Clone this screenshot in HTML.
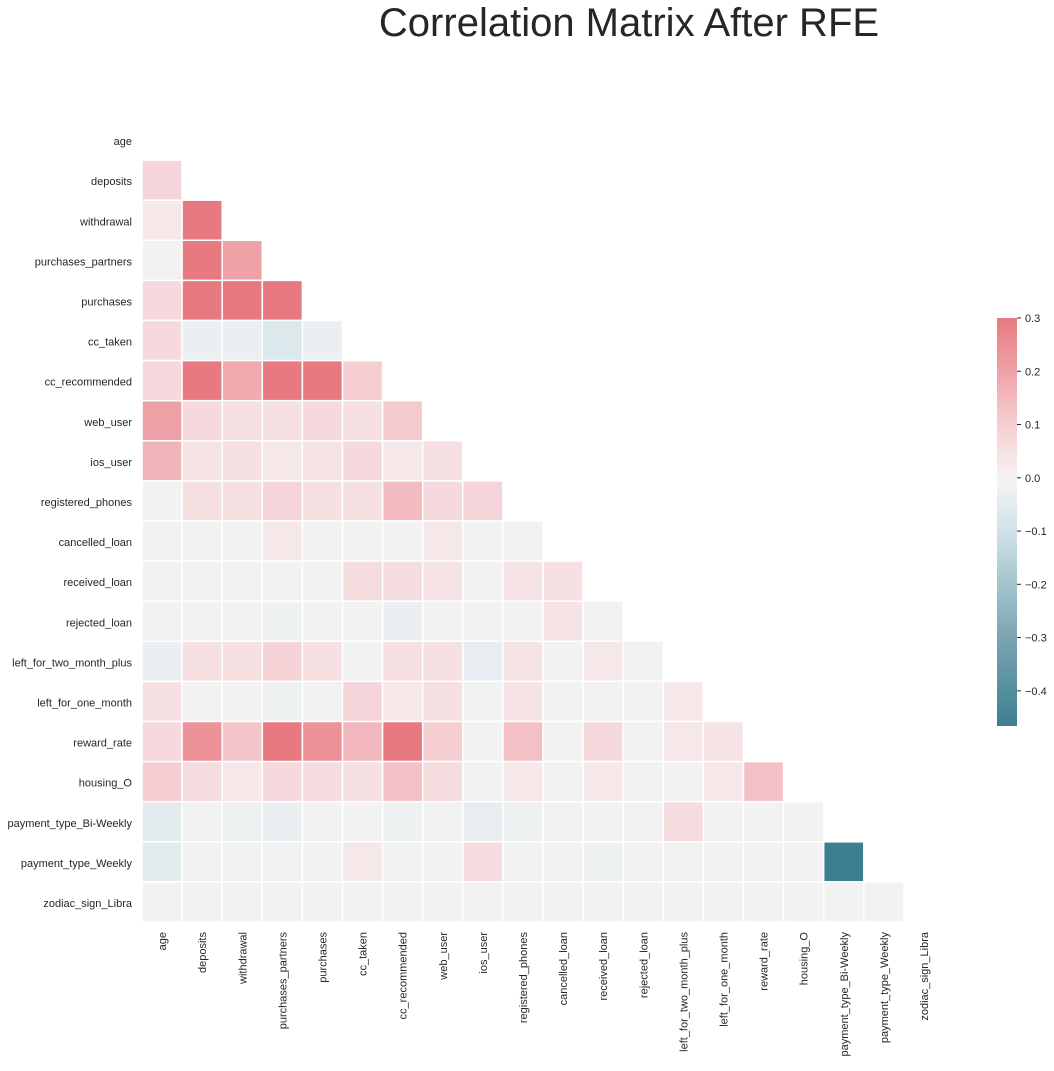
<!DOCTYPE html>
<html><head><meta charset="utf-8"><style>
body{margin:0;background:#fff;}
svg text{font-family:"Liberation Sans",sans-serif;fill:#262626;}
</style></head><body>
<svg id="chart" width="1054" height="1066" xmlns="http://www.w3.org/2000/svg">
<text x="629" y="36" font-size="40" text-anchor="middle">Correlation Matrix After RFE</text>
<g id="cells"></g>
<g id="ylabels"></g>
<g id="xlabels"></g>
<defs><linearGradient id="cbg" x1="0" y1="1" x2="0" y2="0"></linearGradient></defs>
<rect x="997" y="318" width="20" height="408" fill="url(#cbg)"/>
<g id="cbticks"></g>
</svg>
<script>
const labels=["age","deposits","withdrawal","purchases_partners","purchases","cc_taken","cc_recommended","web_user","ios_user","registered_phones","cancelled_loan","received_loan","rejected_loan","left_for_two_month_plus","left_for_one_month","reward_rate","housing_O","payment_type_Bi-Weekly","payment_type_Weekly","zodiac_sign_Libra"];
const corr=[
[],
[.08],
[.03,.35],
[0,.35,.2],
[.07,.35,.35,.35],
[.07,-.03,-.03,-.07,-.03],
[.07,.35,.18,.35,.35,.1],
[.2,.07,.05,.05,.07,.05,.11],
[.16,.04,.05,.03,.04,.07,.03,.05],
[0,.05,.05,.08,.05,.05,.14,.07,.08],
[0,0,0,.03,0,0,0,.03,0,0],
[0,0,0,0,0,.06,.06,.04,0,.04,.05],
[0,0,0,-.02,0,0,-.03,0,0,0,.04,0],
[-.03,.05,.05,.09,.05,0,.05,.05,-.04,.04,0,.03,0],
[.05,0,0,-.02,0,.08,.03,.05,0,.04,0,0,0,.03],
[.07,.24,.12,.35,.24,.15,.35,.1,0,.13,0,.07,0,.03,.04],
[.1,.06,.03,.07,.06,.05,.13,.06,0,.03,0,.03,0,0,.03,.13],
[-.05,0,-.02,-.03,0,0,-.02,0,-.04,-.02,0,0,0,.06,0,0,0],
[-.05,0,0,0,0,.03,0,0,.06,0,0,-.02,0,0,0,0,0,-.466],
[0,0,0,0,0,0,0,0,0,0,0,0,0,0,0,0,0,0,0]
];
const cbTicks=[0.3,0.2,0.1,0.0,-0.1,-0.2,-0.3,-0.4];
const vmin=-0.466,vmax=0.3;
const x0=142,y0=120,cs=40.1;
const NS="http://www.w3.org/2000/svg";
const ramp=[
[-0.466,[61,127,145]],[-0.3,[122,165,178]],[-0.2,[165,196,205]],[-0.1,[208,226,232]],[-0.015,[240,242,243]],
[0,[242,242,242]],[0.015,[246,236,238]],[0.1,[245,206,210]],[0.2,[238,162,168]],[0.3,[232,121,128]]];
function color(v){
  if(v<=ramp[0][0]) return "rgb("+ramp[0][1].join(",")+")";
  if(v>=ramp[ramp.length-1][0]) return "rgb("+ramp[ramp.length-1][1].join(",")+")";
  if(Math.abs(v)<0.012) return "rgb(242,242,242)";
  for(let k=0;k<ramp.length-1;k++){
    const [a,ca]=ramp[k],[b,cb]=ramp[k+1];
    if(v>=a&&v<=b){const t=(v-a)/(b-a);return "rgb("+ca.map((c,i)=>Math.round(c+(cb[i]-c)*t)).join(",")+")";}
  }
}
const cyScale=v=>318+(vmax-v)/(vmax-vmin)*408;
const cells=document.getElementById('cells');
corr.forEach((row,i)=>row.forEach((v,j)=>{
  const r=document.createElementNS(NS,'rect');
  r.setAttribute('x',x0+j*cs);r.setAttribute('y',y0+i*cs);
  r.setAttribute('width',cs);r.setAttribute('height',cs);
  r.setAttribute('fill',color(v));r.setAttribute('stroke','#fff');r.setAttribute('stroke-width','1.5');
  
  
  cells.appendChild(r);
}));
const yl=document.getElementById('ylabels'),xl=document.getElementById('xlabels');
labels.forEach((l,i)=>{
  const t=document.createElementNS(NS,'text');
  t.setAttribute('x',132);t.setAttribute('y',y0+i*cs+cs/2+5);
  t.setAttribute('text-anchor','end');t.setAttribute('font-size','11');
  t.textContent=l;
  
  
  yl.appendChild(t);
  const u=document.createElementNS(NS,'text');
  const cx=x0+i*cs+cs/2+4;
  u.setAttribute('transform','translate('+cx+',932) rotate(-90)');
  u.setAttribute('text-anchor','end');u.setAttribute('font-size','11');
  u.textContent=l;
  
  
  xl.appendChild(u);
});
const g=document.getElementById('cbg');
for(let k=0;k<=80;k++){
  const v=vmin+(vmax-vmin)*k/80;
  const s=document.createElementNS(NS,'stop');
  s.setAttribute('offset',(k/80));s.setAttribute('stop-color',color(v));
  g.appendChild(s);
}
const cbt=document.getElementById('cbticks');
cbTicks.forEach(v=>{
  const y=cyScale(v);
  const ln=document.createElementNS(NS,'line');
  ln.setAttribute('x1',1017);ln.setAttribute('x2',1021);ln.setAttribute('y1',y);ln.setAttribute('y2',y);
  ln.setAttribute('stroke','#262626');ln.setAttribute('stroke-width','1');
  
  
  cbt.appendChild(ln);
  const t=document.createElementNS(NS,'text');
  t.setAttribute('x',1025);t.setAttribute('y',y+4);t.setAttribute('font-size','11');
  t.textContent=(v<0?'\u2212':'')+Math.abs(v).toFixed(1);
  
  
  cbt.appendChild(t);
});
</script>
</body></html>
